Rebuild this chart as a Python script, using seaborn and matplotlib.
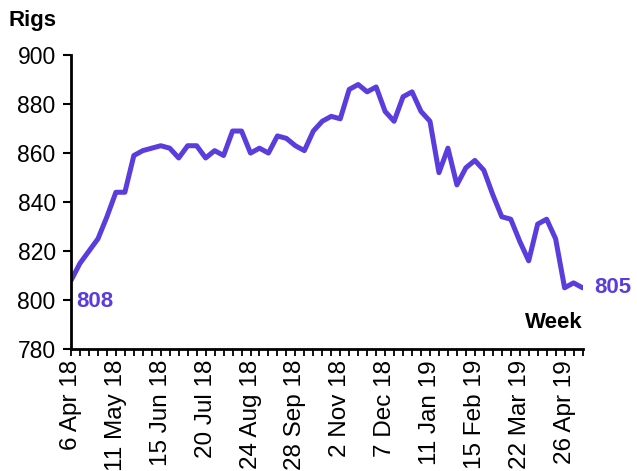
import matplotlib
matplotlib.use("Agg")
import pandas as pd
import seaborn as sns
from matplotlib import pyplot as plt

# weekly US rig count, 6 Apr 18 .. 10 May 19
weeks = ["6 Apr 18", "13 Apr 18", "20 Apr 18", "27 Apr 18", "4 May 18", "11 May 18",
         "18 May 18", "25 May 18", "1 Jun 18", "8 Jun 18", "15 Jun 18", "22 Jun 18",
         "29 Jun 18", "6 Jul 18", "13 Jul 18", "20 Jul 18", "27 Jul 18", "3 Aug 18",
         "10 Aug 18", "17 Aug 18", "24 Aug 18", "31 Aug 18", "7 Sep 18", "14 Sep 18",
         "21 Sep 18", "28 Sep 18", "5 Oct 18", "12 Oct 18", "19 Oct 18", "26 Oct 18",
         "2 Nov 18", "9 Nov 18", "16 Nov 18", "23 Nov 18", "30 Nov 18", "7 Dec 18",
         "14 Dec 18", "21 Dec 18", "28 Dec 18", "4 Jan 19", "11 Jan 19", "18 Jan 19",
         "25 Jan 19", "1 Feb 19", "8 Feb 19", "15 Feb 19", "22 Feb 19", "1 Mar 19",
         "8 Mar 19", "15 Mar 19", "22 Mar 19", "29 Mar 19", "5 Apr 19", "12 Apr 19",
         "19 Apr 19", "26 Apr 19", "3 May 19", "10 May 19"]
rigs = [808, 815, 820, 825, 834, 844, 844, 859, 861, 862, 863, 862,
        858, 863, 863, 858, 861, 859, 869, 869, 860, 862, 860, 867,
        866, 863, 861, 869, 873, 875, 874, 886, 888, 885, 887, 877,
        873, 883, 885, 877, 873, 852, 862, 847, 854, 857, 853, 843,
        834, 833, 824, 816, 831, 833, 825, 805, 807, 805]

purple = "#5a3ddc"

df = pd.DataFrame({"week": range(len(weeks)), "rigs": rigs})

sns.set_style("ticks")
plt.rcParams["font.family"] = ["Liberation Sans", "DejaVu Sans"]
plt.rcParams["text.color"] = "black"

fig = plt.figure(figsize=(6.37, 4.71), dpi=100)
ax = fig.add_axes([0.1115, 0.259, 0.803, 0.624])

sns.lineplot(data=df, x="week", y="rigs", ax=ax, color=purple, linewidth=3.6)

ax.set_xlim(0, len(weeks) - 1)
ax.set_ylim(780, 900)
ax.set_yticks(range(780, 901, 20))
ax.set_xticks(range(len(weeks)))
ax.set_xticklabels([w if i % 5 == 0 else "" for i, w in enumerate(weeks)],
                   rotation=90, fontsize=17.5)
ax.tick_params(axis="y", labelsize=16.5, length=6, width=1.5, pad=5, colors="black")
ax.tick_params(axis="x", length=5, width=1.3, pad=3, colors="black")
ax.set_xlabel("")
ax.set_ylabel("")
sns.despine(ax=ax)
for s in ("left", "bottom"):
    ax.spines[s].set_linewidth(2)
    ax.spines[s].set_color("black")

fig.text(0.013, 0.935, "Rigs", fontsize=16, fontweight="bold", va="bottom",
         color="black")
ax.text(len(weeks) - 1, 791, "Week", fontsize=16, fontweight="bold",
        ha="right", va="center", color="black")
ax.text(0.6, 799.5, str(rigs[0]), fontsize=16, fontweight="bold",
        color=purple, ha="left", va="center")
ax.text(len(weeks) - 1 + 1.3, 805, str(rigs[-1]), fontsize=16, fontweight="bold",
        color=purple, ha="left", va="center", clip_on=False)

fig.savefig("out.png", dpi=100)
